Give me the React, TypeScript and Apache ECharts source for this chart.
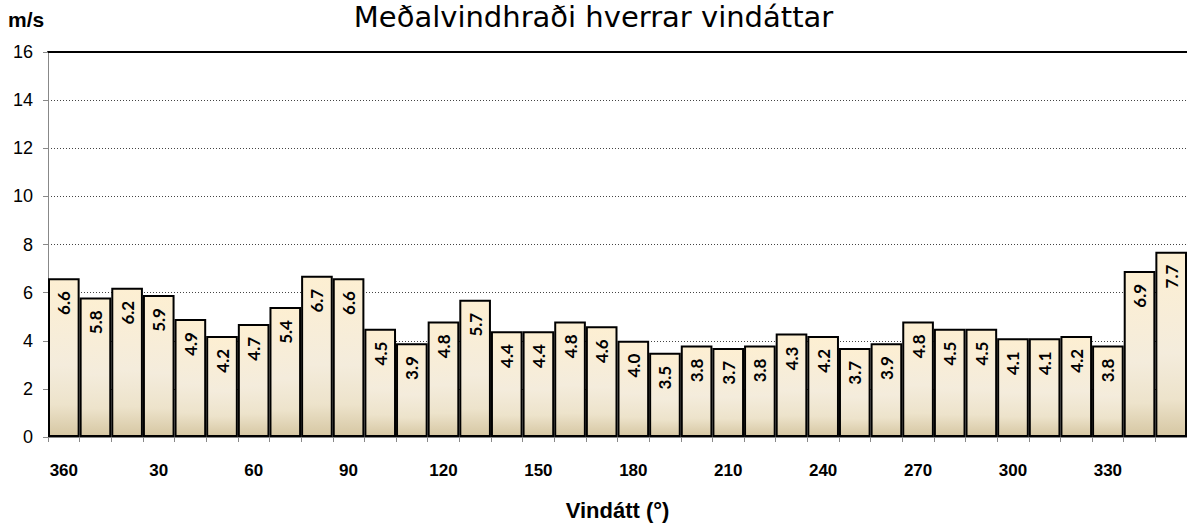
import React, { useEffect, useRef } from "react";
import * as echarts from "echarts";

const directions = ["360","10","20","30","40","50","60","70","80","90","100","110","120","130","140","150","160","170","180","190","200","210","220","230","240","250","260","270","280","290","300","310","320","330","340","350"];
const speeds = [6.6,5.8,6.2,5.9,4.9,4.2,4.7,5.4,6.7,6.6,4.5,3.9,4.8,5.7,4.4,4.4,4.8,4.6,4.0,3.5,3.8,3.7,3.8,4.3,4.2,3.7,3.9,4.8,4.5,4.5,4.1,4.1,4.2,3.8,6.9,7.7];
const yTicks = { min: 0, max: 16, interval: 2 };
const titleText = "Meðalvindhraði hverrar vindáttar";
const yUnit = "m/s";
const xName = "Vindátt (°)";

export default function App() {
  const ref = useRef<HTMLDivElement>(null);
  useEffect(() => {
    if (!ref.current) return;
    const chart = echarts.init(ref.current, undefined, { renderer: "svg" });
    chart.setOption({
      animation: false,
      backgroundColor: "#ffffff",
      title: {
        text: titleText,
        left: "center",
        top: 0,
        padding: 0,
        textStyle: { fontFamily: "DejaVu Sans", fontSize: 29, lineHeight: 34, fontWeight: "normal", color: "#000" },
      },
      graphic: [
        {
          type: "text",
          left: 8,
          top: 9,
          style: { text: yUnit, font: "bold 21px 'Liberation Sans', Arial", fill: "#000" },
        },
      ],
      grid: { left: 48, right: 0, top: 52, bottom: 90, containLabel: false },
      xAxis: [
        {
          type: "category",
          data: directions,
          boundaryGap: true,
          axisLine: { show: true, lineStyle: { color: "#888", width: 1 } },
          axisTick: { show: true, interval: 0, length: 5, lineStyle: { color: "#888" } },
          axisLabel: {
            interval: 2,
            margin: 25,
            fontFamily: "Liberation Sans",
            fontWeight: "bold",
            fontSize: 17,
            color: "#000",
          },
          name: xName,
          nameLocation: "middle",
          nameGap: 62,
          nameTextStyle: { fontFamily: "Liberation Sans", fontWeight: "bold", fontSize: 22, color: "#000" },
          splitLine: { show: false },
        },
        {
          type: "category",
          data: directions,
          position: "top",
          axisLine: { show: true, lineStyle: { color: "#000", width: 2 } },
          axisTick: { show: false },
          axisLabel: { show: false },
          splitLine: { show: false },
        },
      ],
      yAxis: {
        type: "value",
        min: yTicks.min,
        max: yTicks.max,
        interval: yTicks.interval,
        axisLine: { show: true, lineStyle: { color: "#888", width: 1 } },
        axisTick: { show: true, length: 5, lineStyle: { color: "#888" } },
        axisLabel: { margin: 15, fontFamily: "Liberation Sans", fontSize: 18, color: "#000" },
        splitLine: { show: true, lineStyle: { color: "#444", type: [1, 2], width: 1 } },
      },
      series: [
        {
          type: "bar",
          data: speeds,
          xAxisIndex: 0,
          barCategoryGap: "0%",
          itemStyle: {
            color: new echarts.graphic.LinearGradient(0, 0, 0, 1, [
              { offset: 0, color: "#fdefd2" },
              { offset: 0.55, color: "#f4ecdc" },
              { offset: 0.8, color: "#ede3cb" },
              { offset: 1, color: "#d6c7a3" },
            ]),
            borderColor: "#000",
            borderWidth: 2,
          },
          label: {
            show: true,
            position: "insideTop",
            rotate: 90,
            align: "right",
            verticalAlign: "middle",
            distance: 13,
            fontFamily: "Lato",
            fontWeight: "bold",
            fontSize: 17,
            color: "#000",
            formatter: (p: any) => Number(p.value).toFixed(1),
          },
        },
      ],
    });
    return () => chart.dispose();
  }, []);
  return (
    <div
      ref={ref}
      style={{ position: "fixed", left: 0, top: 0, width: 1187, height: 527 }}
    />
  );
}
